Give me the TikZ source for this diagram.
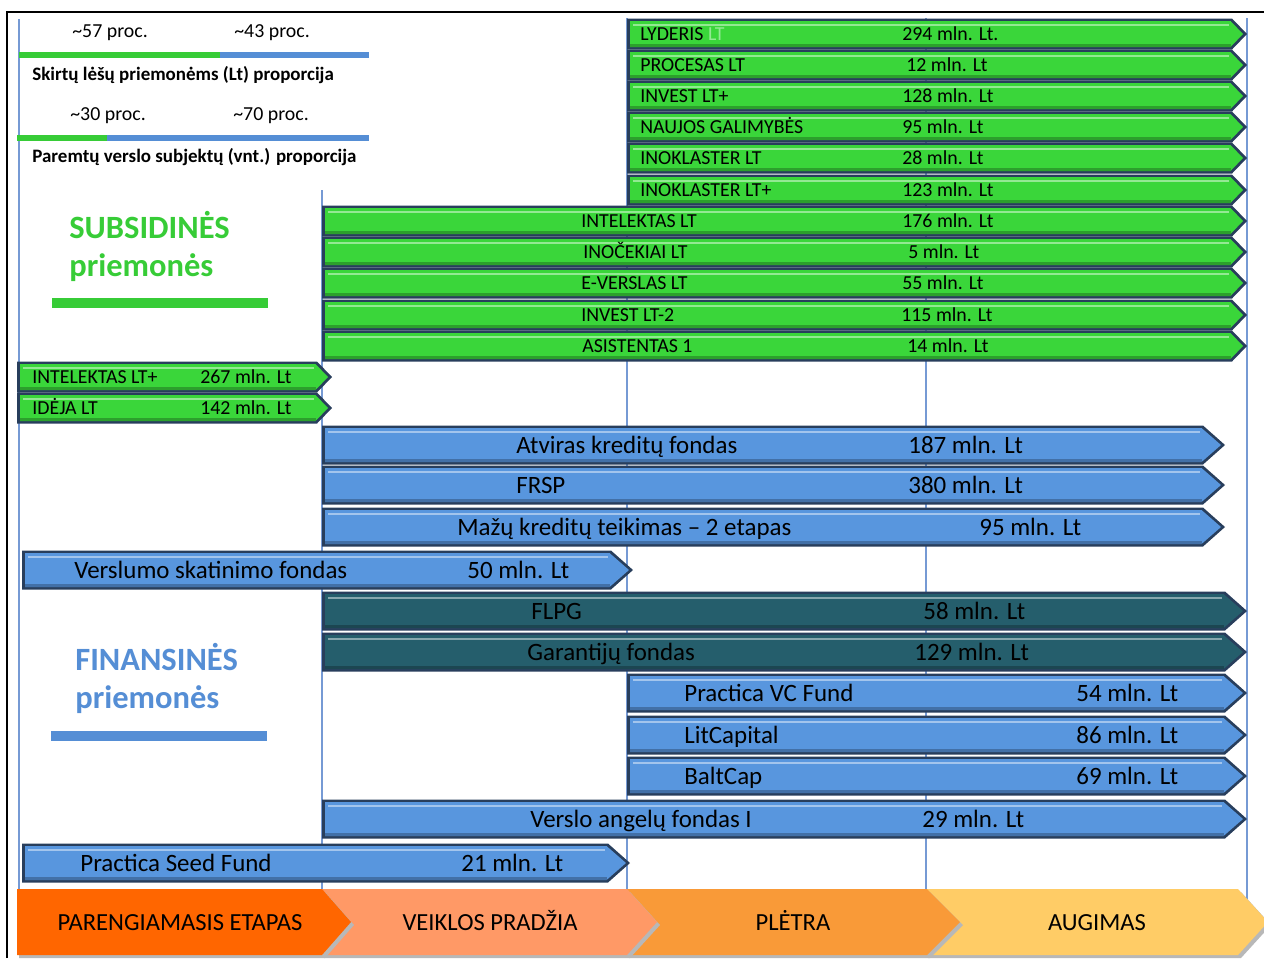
\documentclass[tikz,border=0pt]{standalone}
\usepackage{fontspec}
\setmainfont{Carlito}
\usepackage{tikz}
\usetikzlibrary{positioning}
\definecolor{clrGreen}{RGB}{58,214,58}
\definecolor{clrBlue}{RGB}{88,150,222}
\definecolor{clrTeal}{RGB}{37,94,108}
\definecolor{clrRim}{RGB}{40,62,92}
\definecolor{clrGrid}{RGB}{118,154,212}
\definecolor{clrSub}{RGB}{55,204,55}
\definecolor{clrFin}{RGB}{85,142,213}
\definecolor{clrStA}{RGB}{255,102,0}
\definecolor{clrStB}{RGB}{255,153,102}
\definecolor{clrStC}{RGB}{249,154,56}
\definecolor{clrStD}{RGB}{255,204,102}
% bevelled arrow bar: x-left, x-tip, y-centre, height, tip length, colour
\newcommand{\fundbar}[6]{%
  \fill[clrRim] (#1,#3-#4/2) -- (#2-#5,#3-#4/2) -- (#2,#3) -- (#2-#5,#3+#4/2) -- (#1,#3+#4/2) -- cycle;
  \fill[#6] (#1+3,#3-#4/2+2.5) -- (#2-#5-1.5,#3-#4/2+2.5) -- (#2-4,#3) -- (#2-#5-1.5,#3+#4/2-2.5) -- (#1+3,#3+#4/2-2.5) -- cycle;
  \fill[#6!55!white] (#1+6,#3-#4/2+5) rectangle (#2-#5-3,#3-#4/2+7.5);
  \fill[#6!75!black] (#1+3,#3+#4/2-6) rectangle (#2-#5-1.5,#3+#4/2-2.5);
}

\begin{document}
\begin{tikzpicture}[x=0.02cm,y=-0.02cm,
  bartxt/.style={anchor=base west,inner sep=0pt,font=\fontsize{11.3}{13}\selectfont},
  fundtxt/.style={anchor=base west,inner sep=0pt,font=\fontsize{14.2}{17}\selectfont},
  stagetxt/.style={anchor=base,inner sep=0pt,font=\fontsize{14}{17}\selectfont},
  legtxt/.style={anchor=base west,inner sep=0pt,font=\fontsize{11.3}{13}\selectfont},
  legcap/.style={anchor=base west,inner sep=0pt,font=\fontsize{10.8}{13}\selectfont\bfseries},
  kindtxt/.style={anchor=base west,inner sep=0pt,font=\fontsize{18.5}{22}\selectfont\bfseries},
  gridline/.style={draw=clrGrid,line width=0.6pt}]
  \clip (0,0) rectangle (1264,958);
  \def\cA{19} \def\cB{322} \def\cC{627} \def\cD{926} \def\cE{1247}

  % frame and stage lines
  \draw[line width=0.7pt] (7,958) -- (7,12) -- (1264,12);
  \draw[gridline] (\cA,19) -- (\cA,950);
  \draw[gridline] (\cB,190) -- (\cB,889);
  \draw[gridline] (\cC,18) -- (\cC,889);
  \draw[gridline] (\cD,18) -- (\cD,889);
  \draw[gridline] (\cE,18) -- (\cE,950);

  % --- legend ---
  \node[legtxt] (pa1) at (72,37) {\textasciitilde57 proc.};
  \node[legtxt] (pb1) at (234,37) {\textasciitilde43 proc.};
  \fill[clrSub] (19,52) rectangle (220,58);
  \fill[clrFin] (220,52) rectangle (369,58);
  \node[legcap] (cap1) at (32,80) {Skirtų lėšų priemonėms (Lt) proporcija};
  \node[legtxt] (pa2) at (70,120) {\textasciitilde30 proc.};
  \node[legtxt] (pb2) at (233,120) {\textasciitilde70 proc.};
  \fill[clrSub] (17,135) rectangle (107,141);
  \fill[clrFin] (107,135) rectangle (369,141);
  \node[legcap] (cap2) at (32,162) {Paremtų verslo subjektų (vnt.) proporcija};

  % --- kinds ---
  \node[kindtxt,text=clrSub] (sub1) at (69,238) {SUBSIDINĖS};
  \node[kindtxt,text=clrSub] (sub2) at (69,276) {priemonės};
  \fill[clrSub] (52,298) rectangle (268,308);
  \node[kindtxt,text=clrFin] (fin1) at (75,670) {FINANSINĖS};
  \node[kindtxt,text=clrFin] (fin2) at (75,708) {priemonės};
  \fill[clrFin] (51,731) rectangle (267,741);

  % --- subsidies ---
  \foreach \i/\xa/\xb/\y/\nm/\nx/\am/\ax in {%
    1/\cC/\cE/34/{LYDERIS \textcolor{clrGreen!55!white}{LT}}/640/294 mln. Lt./902,
    2/\cC/\cE/65/PROCESAS LT/640/12 mln. Lt/906,
    3/\cC/\cE/96/INVEST LT+/640/128 mln. Lt/902,
    4/\cC/\cE/127/NAUJOS GALIMYBĖS/640/95 mln. Lt/902,
    5/\cC/\cE/158/INOKLASTER LT/640/28 mln. Lt/902,
    6/\cC/\cE/190/INOKLASTER LT+/640/123 mln. Lt/902,
    7/\cB/\cE/221/INTELEKTAS LT/581/176 mln. Lt/902,
    8/\cB/\cE/252/INOČEKIAI LT/583/5 mln. Lt/908,
    9/\cB/\cE/283/E-VERSLAS LT/581/55 mln. Lt/902,
    10/\cB/\cE/315/INVEST LT-2/581/115 mln. Lt/901,
    11/\cB/\cE/346/ASISTENTAS 1/582/14 mln. Lt/907,
    12/17/332/377/INTELEKTAS LT+/32/267 mln. Lt/200,
    13/17/332/408/IDĖJA LT/32/142 mln. Lt/200}{
      \fundbar{\xa}{\xb}{\y}{31}{15}{clrGreen}
      \node[bartxt] (gn\i) at (\nx,\y+6.5) {\nm};
      \node[bartxt] (ga\i) at (\ax,\y+6.5) {\am};
  }

  % --- financial instruments ---
  \foreach \i/\xa/\xb/\y/\clr/\nm/\nx/\am/\ax in {%
    1/\cB/1225/445/clrBlue/Atviras kreditų fondas/516/187 mln. Lt/908,
    2/\cB/1225/485/clrBlue/FRSP/516/380 mln. Lt/908,
    3/\cB/1225/527/clrBlue/Mažų kreditų teikimas -- 2 etapas/457/95 mln. Lt/979,
    4/22/633/570/clrBlue/Verslumo skatinimo fondas/74/50 mln. Lt/467,
    5/\cB/\cE/611/clrTeal/FLPG/531/58 mln. Lt/923,
    6/\cB/\cE/652/clrTeal/Garantijų fondas/527/129 mln. Lt/914,
    7/\cC/\cE/693/clrBlue/Practica VC Fund/684/54 mln. Lt/1076,
    8/\cC/\cE/735/clrBlue/LitCapital/684/86 mln. Lt/1076,
    9/\cC/\cE/776/clrBlue/BaltCap/684/69 mln. Lt/1076,
    10/\cB/\cE/819/clrBlue/Verslo angelų fondas I/530/29 mln. Lt/922,
    11/22/630/863/clrBlue/Practica Seed Fund/80/21 mln. Lt/461}{
      \fundbar{\xa}{\xb}{\y}{39}{22}{\clr}
      \node[fundtxt] (fn\i) at (\nx,\y+8) {\nm};
      \node[fundtxt] (fa\i) at (\ax,\y+8) {\am};
  }

  % --- stages ---
  \foreach \i/\xa/\xb/\tp/\clr/\nm/\tx in {%
    4/\cD/1268/30/clrStD/AUGIMAS/1097,
    3/\cC/960/33/clrStC/PLĖTRA/793,
    2/\cB/657/30/clrStB/VEIKLOS PRADŽIA/490,
    1/17/351/29/clrStA/PARENGIAMASIS ETAPAS/180}{
      \fill[black!28] (\xa+2,892) -- (\xb-\tp+3,892) -- (\xb+3,925) -- (\xb-\tp+3,958) -- (\xa+2,958) -- cycle;
      \fill[\clr] (\xa,889) -- (\xb-\tp,889) -- (\xb,922) -- (\xb-\tp,955) -- (\xa,955) -- cycle;
      \node[stagetxt] (st\i) at (\tx,930) {\nm};
  }
\end{tikzpicture}
\end{document}
